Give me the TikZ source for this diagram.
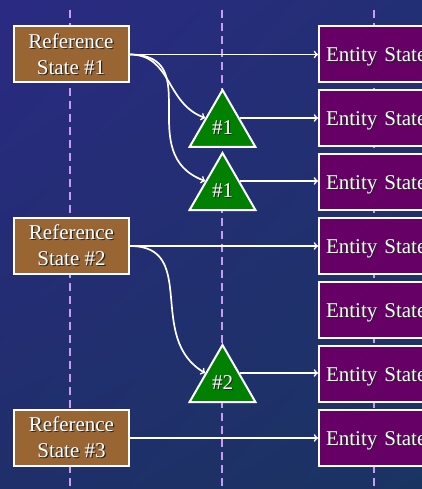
\documentclass[tikz,border=0pt]{standalone}
\usepackage{fontspec}
\setmainfont{Liberation Serif}
\usetikzlibrary{shapes.geometric,shadings}
\definecolor{bgtl}{HTML}{2A2A82}
\definecolor{bgtr}{HTML}{232F74}
\definecolor{bgbl}{HTML}{1F2F6A}
\definecolor{bgbr}{HTML}{1A3462}
\definecolor{refbrown}{HTML}{996633}
\definecolor{entpurple}{HTML}{660066}
\definecolor{trigreen}{HTML}{008000}
\definecolor{lane}{HTML}{C89CF2}
% text with a dark drop shadow
\newcommand\shtext[1]{\leavevmode\rlap{\kern1.2pt\raisebox{-1.2pt}{\textcolor{black!85}{#1}}}#1}
\tikzset{
  refbox/.style={draw=white,line width=2pt,fill=refbrown,text=white,
    minimum width=115pt,minimum height=56pt,align=center,
    font=\fontsize{21}{26}\selectfont},
  entbox/.style={draw=white,line width=2pt,fill=entpurple,text=white,
    minimum height=56pt,text width=130pt,inner xsep=7pt,align=left,
    text height=19.5pt,text depth=4.5pt,
    font=\fontsize{21}{26}\selectfont},
  tribox/.style={regular polygon,regular polygon sides=3,draw=white,
    line width=2pt,fill=trigreen,text=white,minimum size=76pt,inner sep=0pt,
    font=\fontsize{21}{26}\selectfont},
  flow/.style={->,draw=white,line width=1.7pt}
}
\begin{document}
\begin{tikzpicture}[x=1pt,y=-1pt]
\useasboundingbox (0,0) rectangle (422,489);
\clip (0,0) rectangle (422,489);
\shade[upper left=bgtl,upper right=bgtr,lower left=bgbl,lower right=bgbr]
  (0,0) rectangle (422,489);
% lanes
\foreach \x in {70,222,374}
\draw[lane,line width=2pt,dash pattern=on 8pt off 5pt] (\x,10) -- (\x,489);

% reference states
\node[refbox] (ref1) at (71,54.5) {\shtext{Reference}\\\shtext{State \#1}};
\node[refbox] (ref2) at (71.5,246) {\shtext{Reference}\\\shtext{State \#2}};
\node[refbox] (ref3) at (71.5,438) {\shtext{Reference}\\\shtext{State \#3}};

% entity states
\foreach \n/\y in {1/54.5,2/118,3/182,4/246,5/310,6/374,7/438}
\node[entbox,anchor=west] (ent\n) at (318,\y) {\shtext{Entity State}};

% triangles
\node[tribox] (tri1) at (222.5,128) {\shtext{\#1}};
\node[tribox] (tri2) at (222.5,191) {\shtext{\#1}};
\node[tribox] (tri3) at (222.5,383) {\shtext{\#2}};

\draw[flow] (ref1.east) -- (ent1.west);
\draw[flow] (ref1.east) to[out=0,in=160,looseness=1.1] (tri1.150);
\draw[flow] (ref1.east) to[out=0,in=160,looseness=1.35] (tri2.150);
\draw[flow] (tri1.30) -- (tri1.30 -| ent2.west);
\draw[flow] (tri2.30) -- (tri2.30 -| ent3.west);
\draw[flow] (ref2.east) -- (ent4.west);
\draw[flow] (ref2.east) to[out=0,in=150,looseness=1.2] (tri3.150);
\draw[flow] (tri3.30) -- (tri3.30 -| ent6.west);
\draw[flow] (ref3.east) -- (ent7.west);
\end{tikzpicture}
\end{document}
